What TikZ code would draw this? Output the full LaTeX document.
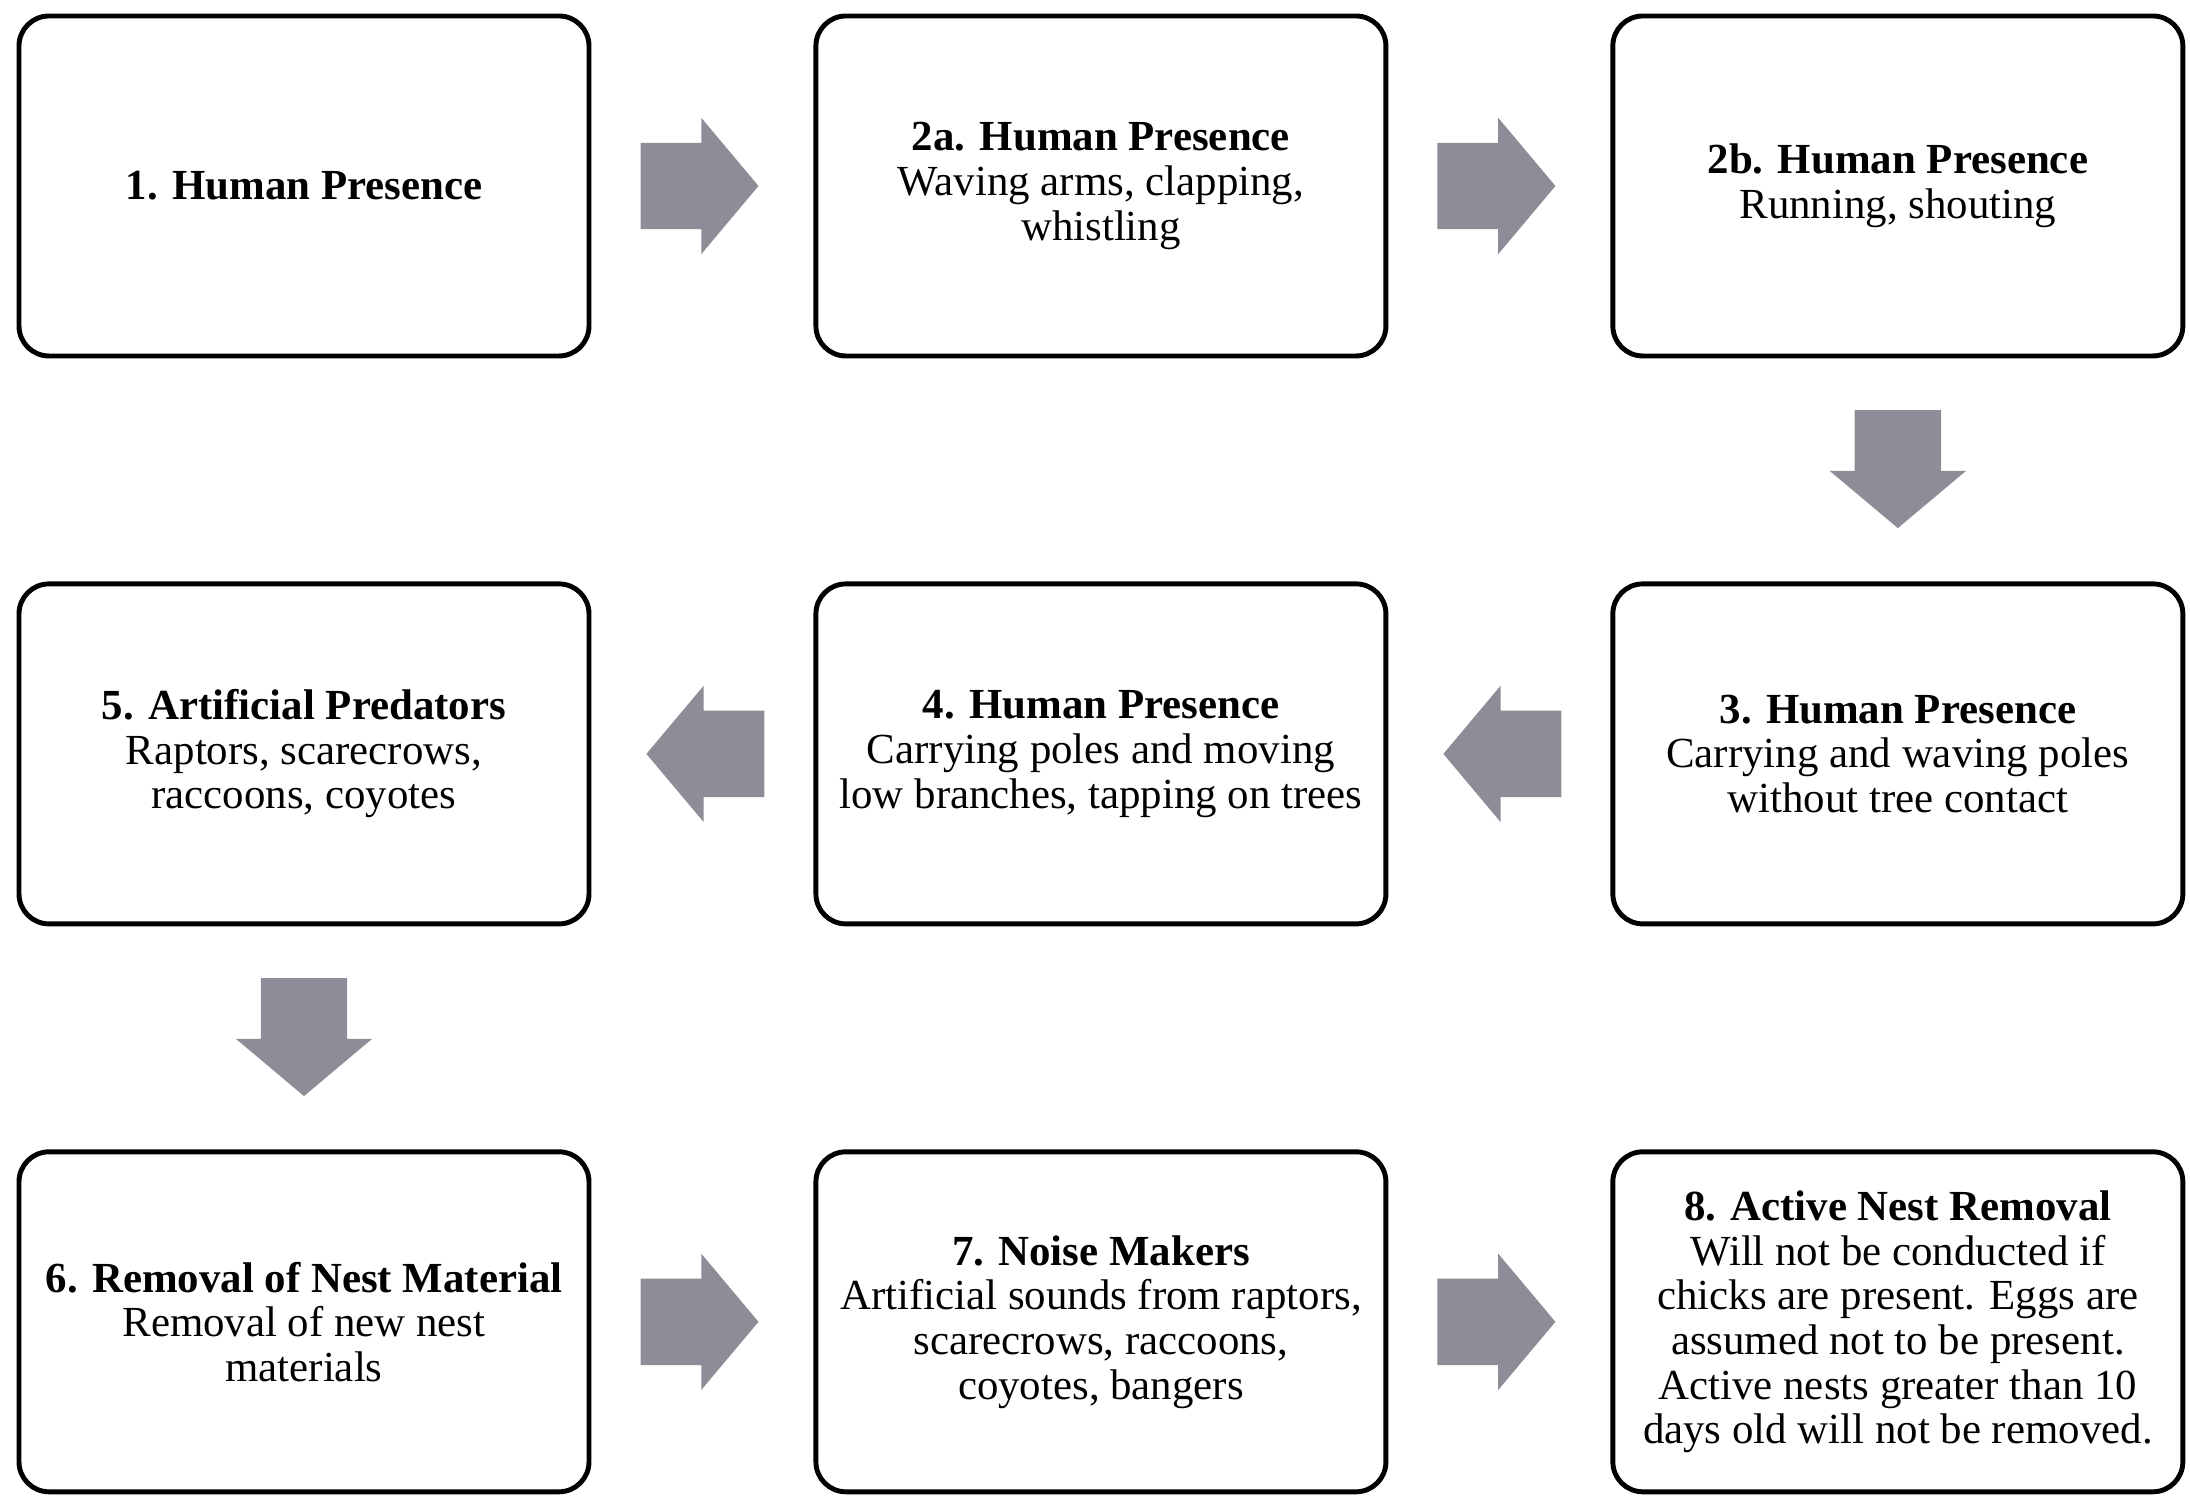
\documentclass[tikz,border=0pt]{standalone}
\usepackage{fontspec}
\setmainfont{Liberation Serif}
\usepackage{tikz}
\usetikzlibrary{positioning,shapes.arrows}

\definecolor{arrowgray}{RGB}{140,141,151}

\begin{document}
\begin{tikzpicture}[node distance=2.23cm and 2.22cm,
                        box/.style={draw,line width=1.4pt,rounded corners=0.3cm,
                                minimum width=5.7cm,minimum height=3.4cm,align=center,
                                font=\fontsize{12.2}{12.7}\selectfont},
                        blockarrow/.style={single arrow,fill=arrowgray,draw=none,
                                minimum height=1.18cm,minimum width=1.35cm,
                                inner xsep=0pt,inner ysep=0.425cm,
                                single arrow head extend=0.25cm,single arrow tip angle=100,
                                sloped,allow upside down},
                        across/.style={blockarrow,pos=0.405},
                        down/.style={blockarrow,pos=0.415}]

        \useasboundingbox (0,0) rectangle (21.9,15.02);

        \node[box] (n1) at (3.04,13.16) {\textbf{1. Human Presence}};
        \node[box] (n2a) [right=of n1] {\textbf{2a. Human Presence}\\Waving arms, clapping,\\whistling};
        \node[box] (n2b) [right=of n2a] {\textbf{2b. Human Presence}\\Running, shouting};
        \node[box] (n3) [below=of n2b] {\textbf{3. Human Presence}\\Carrying and waving poles\\without tree contact};
        \node[box] (n4) [left=of n3] {\textbf{4. Human Presence}\\Carrying poles and moving\\low branches, tapping on trees};
        \node[box] (n5) [left=of n4] {\textbf{5. Artificial Predators}\\Raptors, scarecrows,\\raccoons, coyotes};
        \node[box] (n6) [below=of n5] {\textbf{6. Removal of Nest Material}\\Removal of new nest\\materials};
        \node[box] (n7) [right=of n6] {\textbf{7. Noise Makers}\\Artificial sounds from raptors,\\scarecrows, raccoons,\\coyotes, bangers};
        \node[box] (n8) [right=of n7] {\textbf{8. Active Nest Removal}\\Will not be conducted if\\chicks are present. Eggs are\\assumed not to be present.\\Active nests greater than 10\\days old will not be removed.};

        \path (n1) -- node[across] {} (n2a)
              (n2a) -- node[across] {} (n2b)
              (n2b) -- node[down] {} (n3)
              (n3) -- node[across] {} (n4)
              (n4) -- node[across] {} (n5)
              (n5) -- node[down] {} (n6)
              (n6) -- node[across] {} (n7)
              (n7) -- node[across] {} (n8);
    \end{tikzpicture}
\end{document}
